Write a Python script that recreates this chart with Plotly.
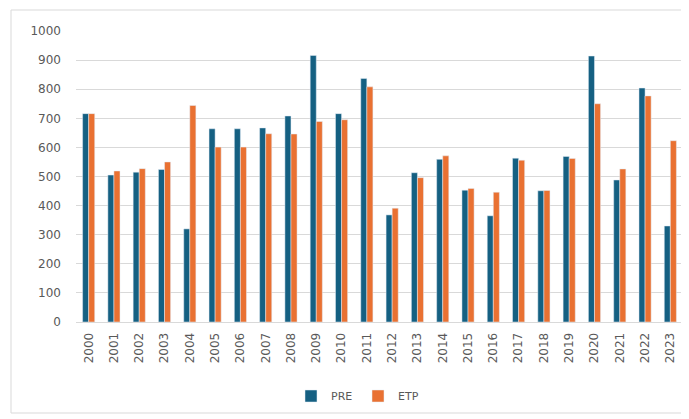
import plotly.graph_objects as go

years = [str(y) for y in range(2000, 2024)]
pre = [716, 505, 515, 524, 320, 664, 664, 667, 708, 916, 716, 837,
       368, 513, 559, 453, 365, 563, 451, 569, 914, 488, 804, 330]
etp = [716, 519, 527, 550, 744, 601, 601, 647, 646, 689, 695, 808,
       391, 496, 571, 459, 446, 556, 452, 562, 750, 526, 777, 623]
y_ticks = list(range(0, 1001, 100))

fig = go.Figure()
fig.add_trace(go.Bar(x=years, y=pre, name="PRE", marker_color="#156082"))
fig.add_trace(go.Bar(x=years, y=etp, name="ETP", marker_color="#E97132"))

# page body has an 8px offset; work in absolute page pixels and convert
OFF = 8
W, H = 681, 411
ml, mr, mt, mb = 76 - OFF, 6, 31 - OFF, 97
pw, ph = W - ml - mr, H - mt - mb

def px(xa):
    return (xa - OFF - ml) / pw

def py(ya):
    return (H - mb - (ya - OFF)) / ph

fig.update_layout(
    width=W, height=H,
    margin=dict(l=ml, r=mr, t=mt, b=mb),
    paper_bgcolor="white", plot_bgcolor="white",
    barmode="group", bargap=0.52, bargroupgap=0,
    font=dict(family="DejaVu Sans, sans-serif", size=12, color="#595959"),
    showlegend=True,
    legend=dict(orientation="h", x=px(291), xanchor="left", y=py(396), yanchor="middle",
                font=dict(size=11, color="#595959"), itemwidth=30,
                entrywidth=22, entrywidthmode="pixels", traceorder="normal"),
    shapes=[dict(type="rect", xref="paper", yref="paper",
                 x0=px(11), x1=px(700), y0=py(413), y1=py(10),
                 line=dict(color="#d9d9d9", width=1), fillcolor="rgba(0,0,0,0)", layer="below")],
)
fig.update_xaxes(tickangle=-90, showgrid=False, showline=True, linecolor="#d9d9d9",
                 ticks="", ticklabelstandoff=5, tickfont=dict(size=12, color="#595959"))
fig.update_yaxes(range=[0, 1000], tickvals=y_ticks, showgrid=True, gridcolor="#d9d9d9",
                 zeroline=False, showline=False, ticks="", ticklabelstandoff=14,
                 tickfont=dict(size=12, color="#595959"))

fig.write_html("out.html")
